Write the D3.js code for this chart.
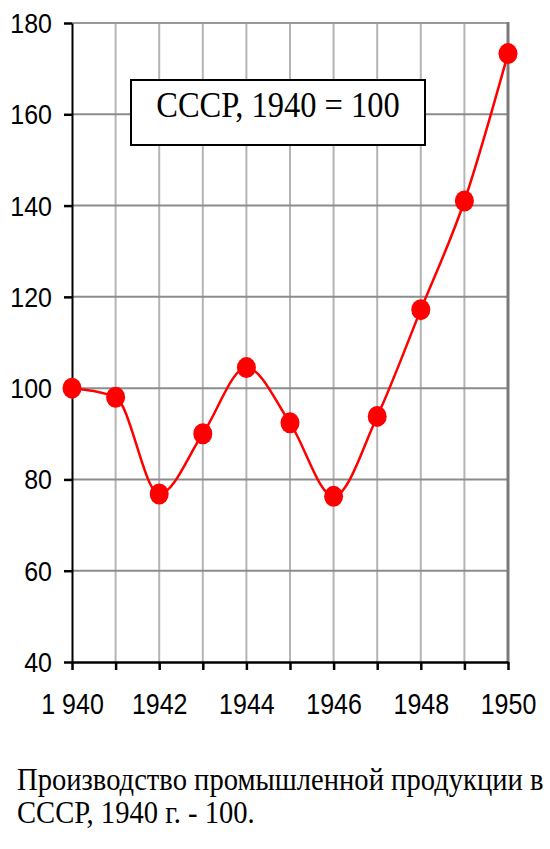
<!DOCTYPE html>
<html><head><meta charset="utf-8">
<script src="https://cdn.jsdelivr.net/npm/d3@7"></script>
<style>body{margin:0;background:#fff}svg{display:block}</style>
</head><body>
<svg id="c" width="550" height="849"></svg>
<script>
const years = [1940,1941,1942,1943,1944,1945,1946,1947,1948,1949,1950];
const values = [100,98,76.8,90,104.5,92.4,76.3,93.8,117.2,141,173.3];
const yTicks = [40,60,80,100,120,140,160,180];
const xLabelYears = [1940,1942,1944,1946,1948,1950];
const xLabelText = ["1 940","1942","1944","1946","1948","1950"];
const legendText = "СССР, 1940 = 100";
const captionLines = ["Производство промышленной продукции в","СССР, 1940 г. - 100."];

const svg = d3.select("#c");
const x = d3.scaleLinear().domain([1940,1950]).range([72,508]);
const y = d3.scaleLinear().domain([40,180]).range([662,23]);

// grid
const g = svg.append("g");
g.selectAll(".vg").data(years.slice(1,-1)).join("line")
  .attr("x1",d=>x(d)).attr("x2",d=>x(d)).attr("y1",y(180)).attr("y2",y(40))
  .attr("stroke","#b4b4b4").attr("stroke-width",2);
g.selectAll(".hg").data(yTicks.slice(1)).join("line")
  .attr("x1",x(1940)).attr("x2",x(1950)).attr("y1",d=>y(d)).attr("y2",d=>y(d))
  .attr("stroke",d=>d===180?"#9a9a9a":"#8c8c8c").attr("stroke-width",2);
g.append("line").attr("x1",x(1950)).attr("x2",x(1950)).attr("y1",y(180)-1).attr("y2",y(40))
  .attr("stroke","#7a7a7a").attr("stroke-width",3);

// axes
const yAxis = svg.append("g").attr("transform",`translate(${x(1940)},0)`)
  .call(d3.axisLeft(y).tickValues(yTicks).tickSize(8).tickPadding(12).tickSizeOuter(0));
yAxis.select(".domain").attr("stroke","#000").attr("stroke-width",2);
yAxis.selectAll(".tick line").attr("stroke","#000").attr("stroke-width",2.5);
yAxis.selectAll(".tick text").attr("font-family","'Liberation Sans', Arial, sans-serif")
  .attr("font-size",25).attr("fill","#000").attr("dy","0.34em").attr("transform","scale(1,1.12)");

const xAxis = svg.append("g").attr("transform",`translate(0,${y(40)})`)
  .call(d3.axisBottom(x).tickValues(years).tickSize(8).tickSizeOuter(0)
    .tickFormat(d=>{const i=xLabelYears.indexOf(d);return i<0?"":xLabelText[i];}).tickPadding(22));
xAxis.select(".domain").attr("stroke","#000").attr("stroke-width",2.5);
xAxis.selectAll(".tick line").attr("stroke","#000").attr("stroke-width",2.5);
xAxis.selectAll(".tick text").attr("font-family","'Liberation Sans', Arial, sans-serif")
  .attr("font-size",25).attr("fill","#000").attr("dy","0.6em").attr("transform","scale(1,1.15)");

// line
const pts = years.map((d,i)=>[d,values[i]]);
const line = d3.line().x(d=>x(d[0])).y(d=>y(d[1])).curve(d3.curveMonotoneX);
svg.append("path").datum(pts).attr("d",line).attr("fill","none")
  .attr("stroke","#ff0000").attr("stroke-width",2.5);
svg.selectAll(".pt").data(pts).join("ellipse")
  .attr("cx",d=>x(d[0])).attr("cy",d=>y(d[1])).attr("rx",9.5).attr("ry",10.5)
  .attr("fill","#ff0000");

// legend
svg.append("rect").attr("x",131).attr("y",80).attr("width",294).attr("height",65)
  .attr("fill","#fff").attr("stroke","#000").attr("stroke-width",2);
svg.append("text").attr("transform","translate(278,117) scale(1,1.08)")
  .attr("text-anchor","middle").attr("font-family","'Liberation Serif','Times New Roman',serif")
  .attr("font-size",32.5).attr("fill","#000").text(legendText);

// caption
captionLines.forEach((t,i)=>{
  svg.append("text").attr("transform",`translate(17,${790+i*33}) scale(1,1.12)`)
    .attr("font-family","'Liberation Serif','Times New Roman',serif")
    .attr("font-size",28.6).attr("fill","#000").text(t);
});
</script>
</body></html>
